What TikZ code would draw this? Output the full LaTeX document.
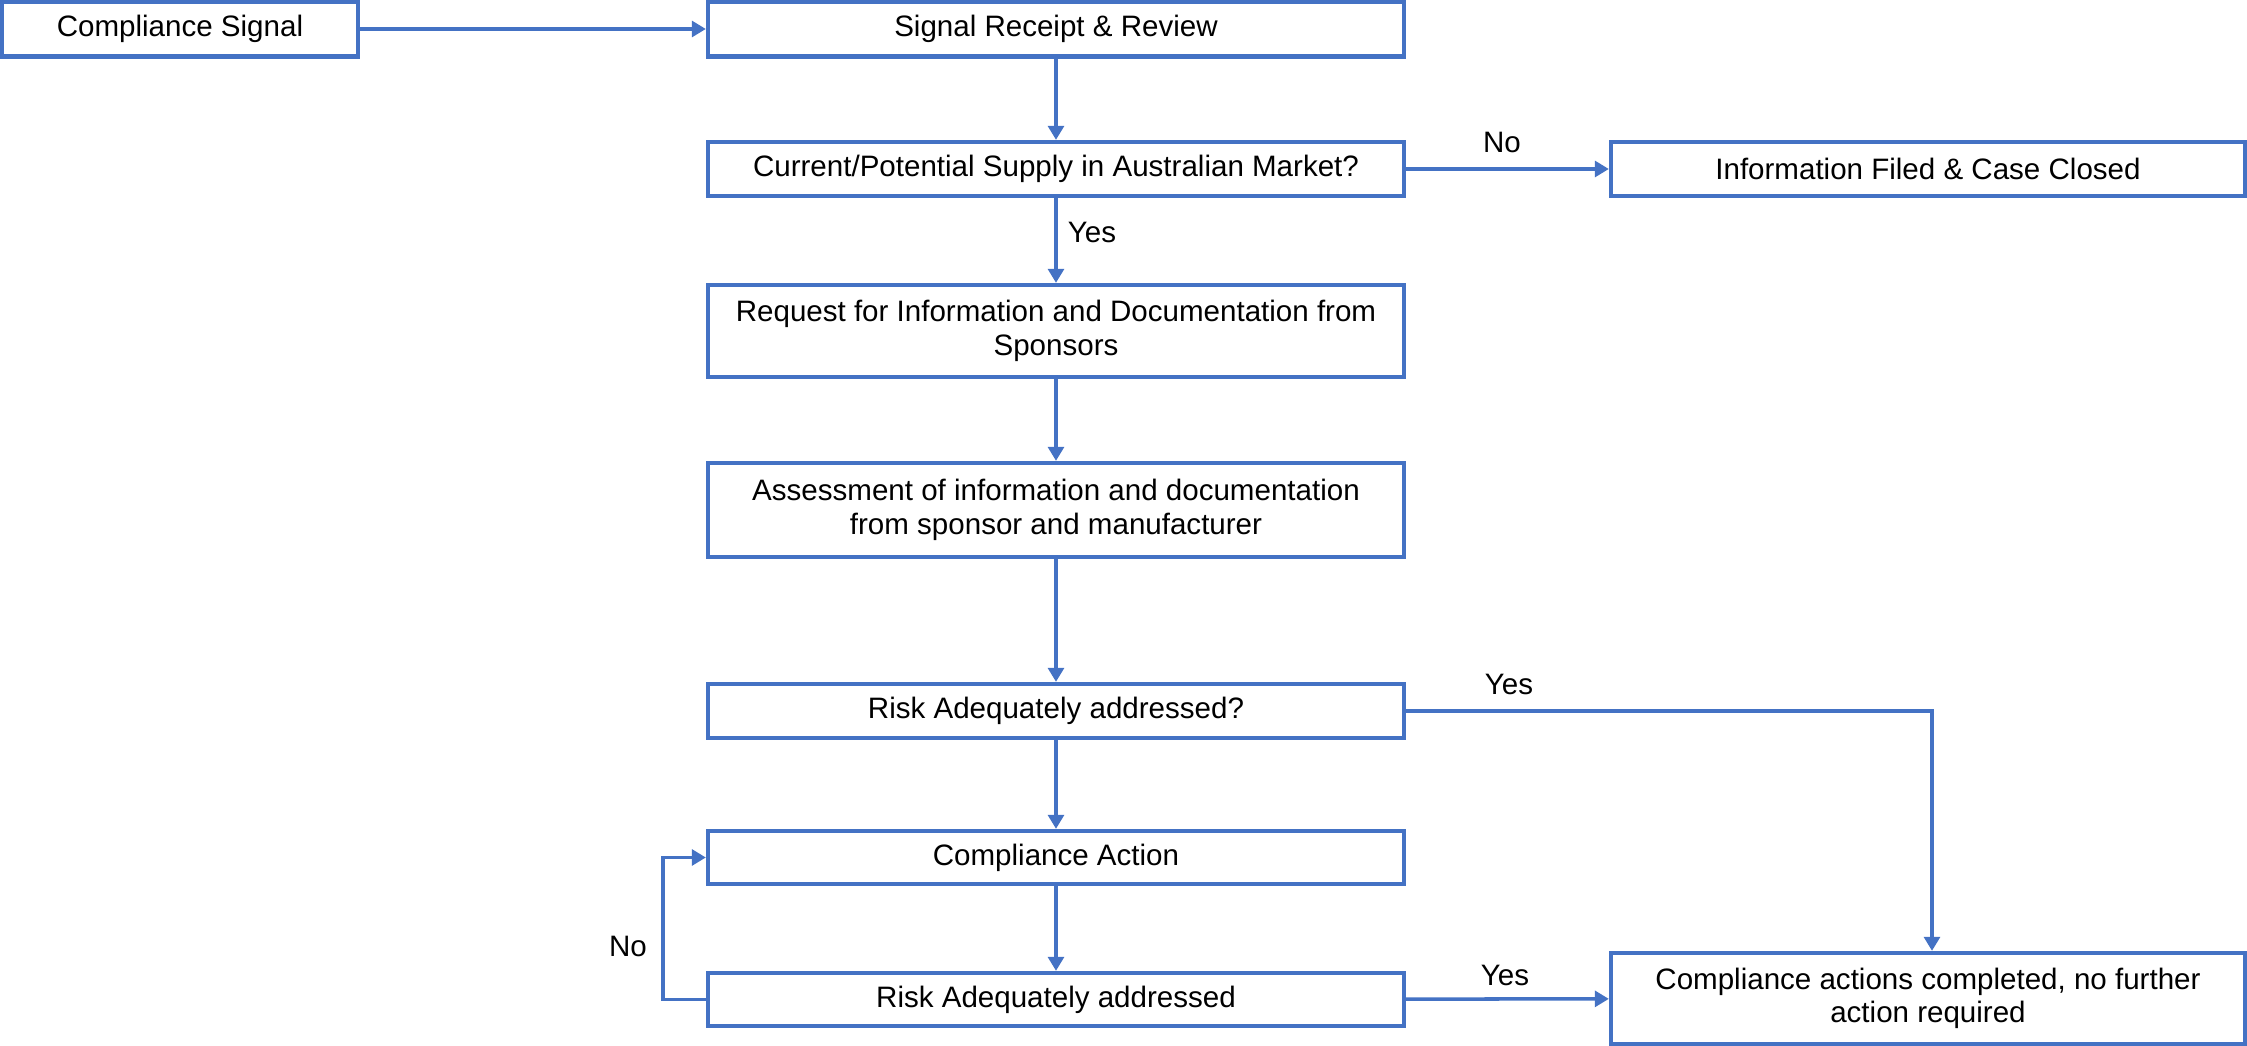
\documentclass[tikz,border=0pt]{standalone}
\usepackage{fontspec}
\setmainfont{Liberation Sans}
\usetikzlibrary{arrows.meta}
\definecolor{boxblue}{RGB}{68,114,196}
\begin{document}
\begin{tikzpicture}[x=0.01cm,y=-0.01cm,
  box/.style={draw=boxblue, line width=1.2pt, fill=white, rectangle, inner sep=0pt,
    align=center, font=\fontsize{8.4}{9.5}\selectfont},
  conn/.style={draw=boxblue, line width=1pt, -{Triangle[length=4pt,width=4.5pt]}},
  lbl/.style={font=\fontsize{8.4}{9.5}\selectfont, inner sep=0pt}]
\useasboundingbox (0,0) rectangle (2247,1046);
\node[box, minimum width=356*0.01cm, minimum height=55*0.01cm] (b1) at (180,29) {Compliance Signal};
\node[box, minimum width=696*0.01cm, minimum height=55*0.01cm] (b2) at (1056,29) {Signal Receipt \& Review};
\node[box, minimum width=696*0.01cm, minimum height=54*0.01cm] (b3) at (1056,169) {Current/Potential Supply in Australian Market?};
\node[box, minimum width=634*0.01cm, minimum height=54*0.01cm] (b4) at (1928,169) {Information Filed \& Case Closed};
\node[box, minimum width=696*0.01cm, minimum height=92*0.01cm] (b5) at (1056,331) {Request for Information and Documentation from\\Sponsors};
\node[box, minimum width=696*0.01cm, minimum height=94*0.01cm] (b6) at (1056,510) {Assessment of information and documentation\\from sponsor and manufacturer};
\node[box, minimum width=696*0.01cm, minimum height=54*0.01cm] (b7) at (1056,711) {Risk Adequately addressed?};
\node[box, minimum width=696*0.01cm, minimum height=53*0.01cm] (b8) at (1056,857.5) {Compliance Action};
\node[box, minimum width=696*0.01cm, minimum height=53*0.01cm] (b9) at (1056,999.5) {Risk Adequately addressed};
\node[box, minimum width=634*0.01cm, minimum height=91*0.01cm] (b10) at (1928,998.5) {Compliance actions completed, no further\\action required};

\coordinate (c7) at (1932,711);
\coordinate (cL1) at (663,999.5);
\coordinate (cL2) at (663,857.5);

\draw[conn] (b1) -- (b2);
\draw[conn] (b2) -- (b3);
\draw[conn] (b3) -- (b4);
\draw[conn] (b3) -- (b5);
\draw[conn] (b5) -- (b6);
\draw[conn] (b6) -- (b7);
\draw[conn] (b7) -- (b8);
\draw[conn] (b8) -- (b9);
\draw[conn] (b7.east) -- (c7) -- (c7 |- b10.north);
\draw[conn] (b9) -- (b10);
\draw[conn] (b9.west) -- (cL1) -- (cL2) -- (b8.west);

\node[lbl] (lno1) at (1502,142) {No};
\node[lbl] (lyes1) at (1092,232) {Yes};
\node[lbl] (lyes2) at (1509,684) {Yes};
\node[lbl] (lyes3) at (1505,975) {Yes};
\node[lbl] (lno2) at (628,946) {No};
\end{tikzpicture}
\end{document}
